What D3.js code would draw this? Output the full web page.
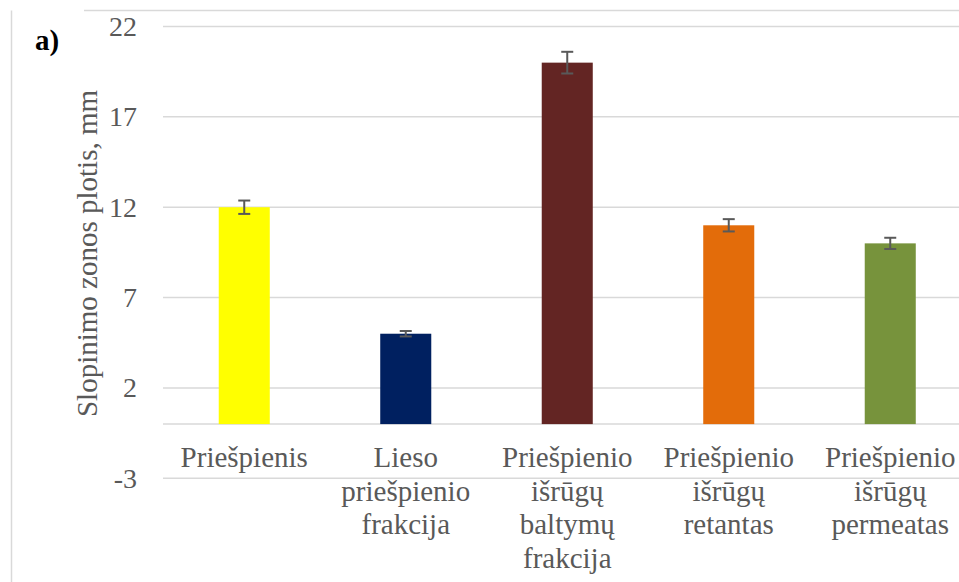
<!DOCTYPE html>
<html>
<head>
<meta charset="utf-8">
<script src="https://cdn.jsdelivr.net/npm/d3@7"></script>
</head>
<body style="margin:0">
<svg id="s" width="959" height="582" style="display:block;background:#fff"></svg>
<script>
// Inhibition zone width by sample
const categories = [
  ["Priešpienis"],
  ["Lieso", "priešpienio", "frakcija"],
  ["Priešpienio", "išrūgų", "baltymų", "frakcija"],
  ["Priešpienio", "išrūgų", "retantas"],
  ["Priešpienio", "išrūgų", "permeatas"]
];
const values = [12, 5, 20, 11, 10];
const errors = [0.37, 0.15, 0.6, 0.34, 0.31];
const colors = ["#ffff00", "#002060", "#632523", "#e36c0a", "#77933c"];
const yTicks = [-3, 2, 7, 12, 17, 22];
const yTitle = "Slopinimo zonos plotis, mm";
const panelLabel = "a)";

const serif = '"Times New Roman", Tinos, "Liberation Serif", serif';
const svg = d3.select("#s").attr("font-family", serif).style("font-family", serif);
const textColor = "#595959";
const gridColor = "#d9d9d9";

// chart frame
svg.append("line").attr("x1", 11.5).attr("x2", 11.5).attr("y1", 10.5).attr("y2", 582)
  .attr("stroke", gridColor).attr("stroke-width", 1.5);
svg.append("line").attr("x1", 84).attr("x2", 959).attr("y1", 10.5).attr("y2", 10.5)
  .attr("stroke", gridColor).attr("stroke-width", 1.5);

const y = d3.scaleLinear().domain([-3, 22]).range([478.3, 26.5]);
const x = d3.scaleBand().domain(d3.range(values.length)).range([163.5, 971])
  .paddingInner(0.684).paddingOuter(0.342);

// gridlines
svg.append("g").selectAll("line").data(yTicks.concat([0])).join("line")
  .attr("x1", 163).attr("x2", 959)
  .attr("y1", d => y(d)).attr("y2", d => y(d))
  .attr("stroke", gridColor).attr("stroke-width", 1.5);

// y tick labels
svg.append("g").selectAll("text").data(yTicks).join("text")
  .attr("x", 137).attr("y", d => y(d)).attr("dy", "0.34em")
  .attr("text-anchor", "end").attr("fill", textColor)
  .attr("font-family", serif).style("font-family", serif).style("font-size", "28px")
  .text(d => String(d));

// bars
svg.append("g").selectAll("rect").data(values).join("rect")
  .attr("x", (d, i) => x(i)).attr("width", x.bandwidth())
  .attr("y", d => y(Math.max(0, d))).attr("height", d => Math.abs(y(d) - y(0)))
  .attr("fill", (d, i) => colors[i]);

// error bars
const eg = svg.append("g").attr("stroke", "#595959").attr("stroke-width", 2).attr("fill", "none");
values.forEach((v, i) => {
  const cx = x(i) + x.bandwidth() / 2;
  const y1 = y(v + errors[i]), y2 = y(v - errors[i]);
  eg.append("line").attr("x1", cx).attr("x2", cx).attr("y1", y1).attr("y2", y2);
  eg.append("line").attr("x1", cx - 6).attr("x2", cx + 6).attr("y1", y1).attr("y2", y1);
  eg.append("line").attr("x1", cx - 6).attr("x2", cx + 6).attr("y1", y2).attr("y2", y2);
});

// category labels, one text per line
const rows = [];
categories.forEach((lines, i) => lines.forEach((ln, j) => rows.push({ i, j, ln })));
svg.append("g").selectAll("text").data(rows).join("text")
  .attr("x", d => x(d.i) + x.bandwidth() / 2).attr("y", d => 467 + d.j * 33.5)
  .attr("text-anchor", "middle").attr("fill", textColor)
  .attr("font-family", serif).style("font-family", serif).style("font-size", "29px")
  .text(d => d.ln);

// y axis title
svg.append("text")
  .attr("transform", "translate(97,253.5) rotate(-90)")
  .attr("text-anchor", "middle").attr("fill", textColor)
  .attr("font-family", serif).style("font-family", serif).style("font-size", "29px")
  .text(yTitle);

// panel label
svg.append("text").attr("x", 35).attr("y", 50).attr("fill", "#000")
  .attr("font-family", serif).style("font-family", serif)
  .style("font-size", "29px").style("font-weight", "bold")
  .text(panelLabel);
</script>
</body>
</html>
